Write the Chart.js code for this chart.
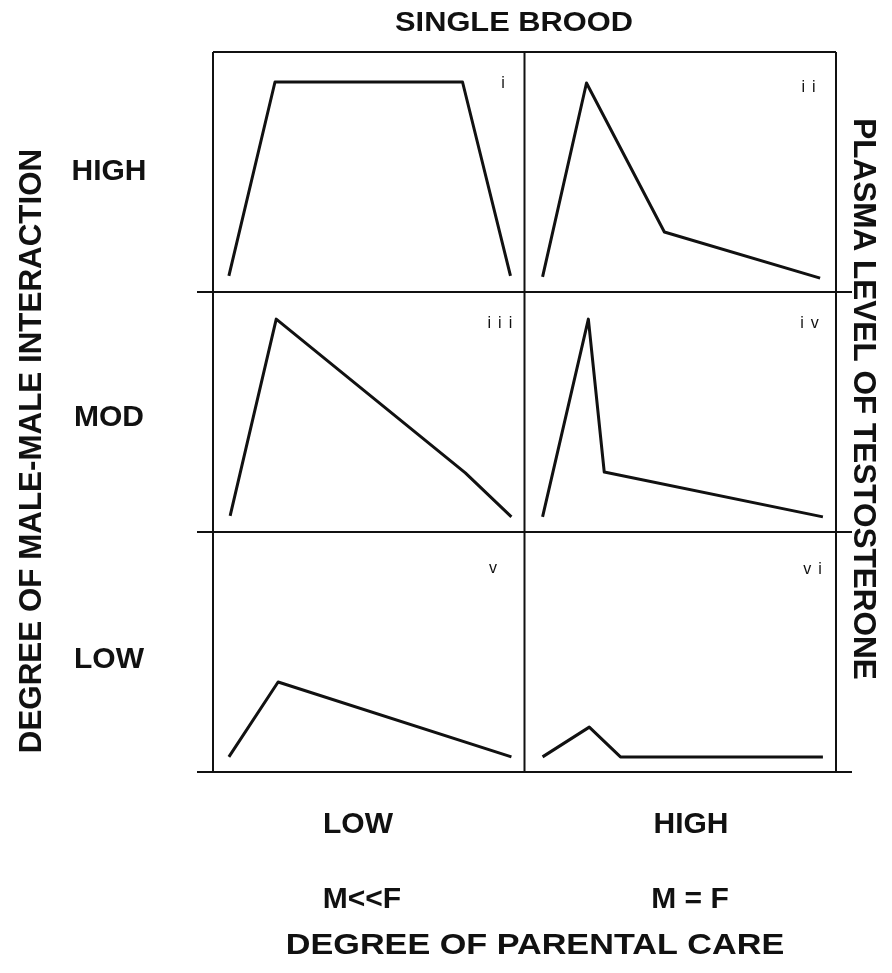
<!DOCTYPE html>
<html>
<head>
<meta charset="utf-8">
<script src="https://cdn.jsdelivr.net/npm/chart.js@4.4.0/dist/chart.umd.min.js"></script>
<style>
html, body { margin: 0; padding: 0; background: #fff; }
#wrap { position: relative; width: 892px; height: 973px; }
</style>
</head>
<body>
<div id="wrap"><canvas id="testChart" width="892" height="973"></canvas></div>
<script>
// panels read left to right, top to bottom
var panelNames = ['i', 'ii', 'iii', 'iv', 'v', 'vi'];
var rowLabels = ['HIGH', 'MOD', 'LOW'];
var colLabels = ['LOW', 'HIGH'];
var careLabels = ['M<<F', 'M = F'];

// time in season (0-100) and testosterone level (0-100) inside each panel
var timeI = [5.1, 19.9, 80.1, 95.5];
var levelI = [6.7, 87.5, 87.5, 6.7];
var timeII = [5.8, 19.9, 44.9, 94.9];
var levelII = [6.3, 87.1, 25.0, 5.8];
var timeIII = [5.5, 20.3, 81.0, 95.8];
var levelIII = [6.7, 88.7, 24.6, 6.3];
var timeIV = [5.8, 20.5, 25.6, 95.8];
var levelIV = [6.3, 88.7, 25.0, 6.3];
var timeV = [5.1, 20.9, 95.8];
var levelV = [6.3, 37.5, 6.3];
var timeVI = [5.8, 20.8, 30.8, 95.8];
var levelVI = [6.3, 18.7, 6.3, 6.3];

var panelTimes = [timeI, timeII, timeIII, timeIV, timeV, timeVI];
var panelLevels = [levelI, levelII, levelIII, levelIV, levelV, levelVI];

// where the little roman numerals sit inside each panel
var numeralSpots = [[93.1, 87.5], [91.2, 85.8], [92.1, 87.5], [91.5, 87.5], [89.9, 85.4], [92.5, 85.0]];

var ink = '#111';
var fontFamily = '"Liberation Sans", Arial, Helvetica, sans-serif';

function panelPoints(p) {
    var col = p % 2;
    var row = Math.floor(p / 2);
    return panelTimes[p].map(function (t, k) {
        return { x: col * 100 + t, y: (2 - row) * 100 + panelLevels[p][k] };
    });
}

var datasets = panelNames.map(function (name, p) {
    return {
        label: name,
        data: panelPoints(p),
        showLine: true,
        borderColor: ink,
        borderWidth: 3,
        borderJoinStyle: 'round',
        borderCapStyle: 'butt',
        pointRadius: 0,
        fill: false,
        tension: 0
    };
});

// stretch widens the glyphs a little, the print face is broader than Liberation
function drawText(ctx, text, x, y, size, weight, spacing, angle, stretch) {
    ctx.save();
    ctx.translate(x, y);
    if (angle) ctx.rotate(angle);
    if (stretch) ctx.scale(stretch, 1);
    ctx.font = weight + ' ' + size + 'px ' + fontFamily;
    ctx.letterSpacing = (spacing || 0) + 'px';
    ctx.fillStyle = ink;
    ctx.textAlign = 'center';
    ctx.textBaseline = 'alphabetic';
    ctx.fillText(text, (spacing || 0) / 2, size * 0.358);
    ctx.restore();
}

// grid of six boxes, lines run a bit past the sides
var framePlugin = {
    id: 'frame',
    beforeDatasetsDraw: function (chart) {
        var ctx = chart.ctx;
        var xs = chart.scales.x;
        var ys = chart.scales.y;
        var left = xs.getPixelForValue(0);
        var right = xs.getPixelForValue(200);
        var top = ys.getPixelForValue(300);
        var bottom = ys.getPixelForValue(0);
        ctx.save();
        ctx.strokeStyle = ink;
        ctx.lineWidth = 2;
        ctx.beginPath();
        [0, 100, 200].forEach(function (v) {
            var x = xs.getPixelForValue(v);
            ctx.moveTo(x, top);
            ctx.lineTo(x, bottom);
        });
        ctx.moveTo(left, top);
        ctx.lineTo(right, top);
        [200, 100, 0].forEach(function (v) {
            var y = ys.getPixelForValue(v);
            ctx.moveTo(left - 16, y);
            ctx.lineTo(right + 16, y);
        });
        ctx.stroke();
        ctx.restore();
    }
};

var textPlugin = {
    id: 'labels',
    afterDraw: function (chart) {
        var ctx = chart.ctx;
        var xs = chart.scales.x;
        var ys = chart.scales.y;

        drawText(ctx, 'SINGLE BROOD', 514, 21, 27.5, 'bold', 0, 0, 1.12);
        drawText(ctx, 'DEGREE OF MALE-MALE INTERACTION', 30, 451, 32, 'bold', 0, -Math.PI / 2, 0.98);
        drawText(ctx, 'PLASMA LEVEL OF TESTOSTERONE', 865, 399, 32, 'bold', 0, Math.PI / 2, 0.985);

        var rowNudge = [-3, 3, 5];
        rowLabels.forEach(function (txt, r) {
            drawText(ctx, txt, 109, ys.getPixelForValue(250 - r * 100) + rowNudge[r], 30, 'bold', 0);
        });

        var colX = [358, 691];
        colLabels.forEach(function (txt, c) {
            drawText(ctx, txt, colX[c], 822, 30, 'bold', 0);
        });
        var careX = [362, 690];
        careLabels.forEach(function (txt, c) {
            drawText(ctx, txt, careX[c], 897, 30, 'bold', 0);
        });

        drawText(ctx, 'DEGREE OF PARENTAL CARE', 535, 943, 30, 'bold', 0, 0, 1.14);

        panelNames.forEach(function (name, p) {
            var col = p % 2;
            var row = Math.floor(p / 2);
            var x = xs.getPixelForValue(col * 100 + numeralSpots[p][0]);
            var y = ys.getPixelForValue((2 - row) * 100 + numeralSpots[p][1]);
            drawText(ctx, name, x, y, 16, 'normal', 7);
        });
    }
};

var ctx = document.getElementById('testChart');
var myChart = new Chart(ctx, {
    type: 'scatter',
    data: { datasets: datasets },
    options: {
        responsive: false,
        animation: false,
        devicePixelRatio: 1,
        layout: { padding: { left: 213, right: 56, top: 52, bottom: 201 } },
        plugins: {
            legend: { display: false },
            tooltip: { enabled: false }
        },
        scales: {
            x: { type: 'linear', min: 0, max: 200, display: false },
            y: { type: 'linear', min: 0, max: 300, display: false }
        }
    },
    plugins: [framePlugin, textPlugin]
});
</script>
</body>
</html>
